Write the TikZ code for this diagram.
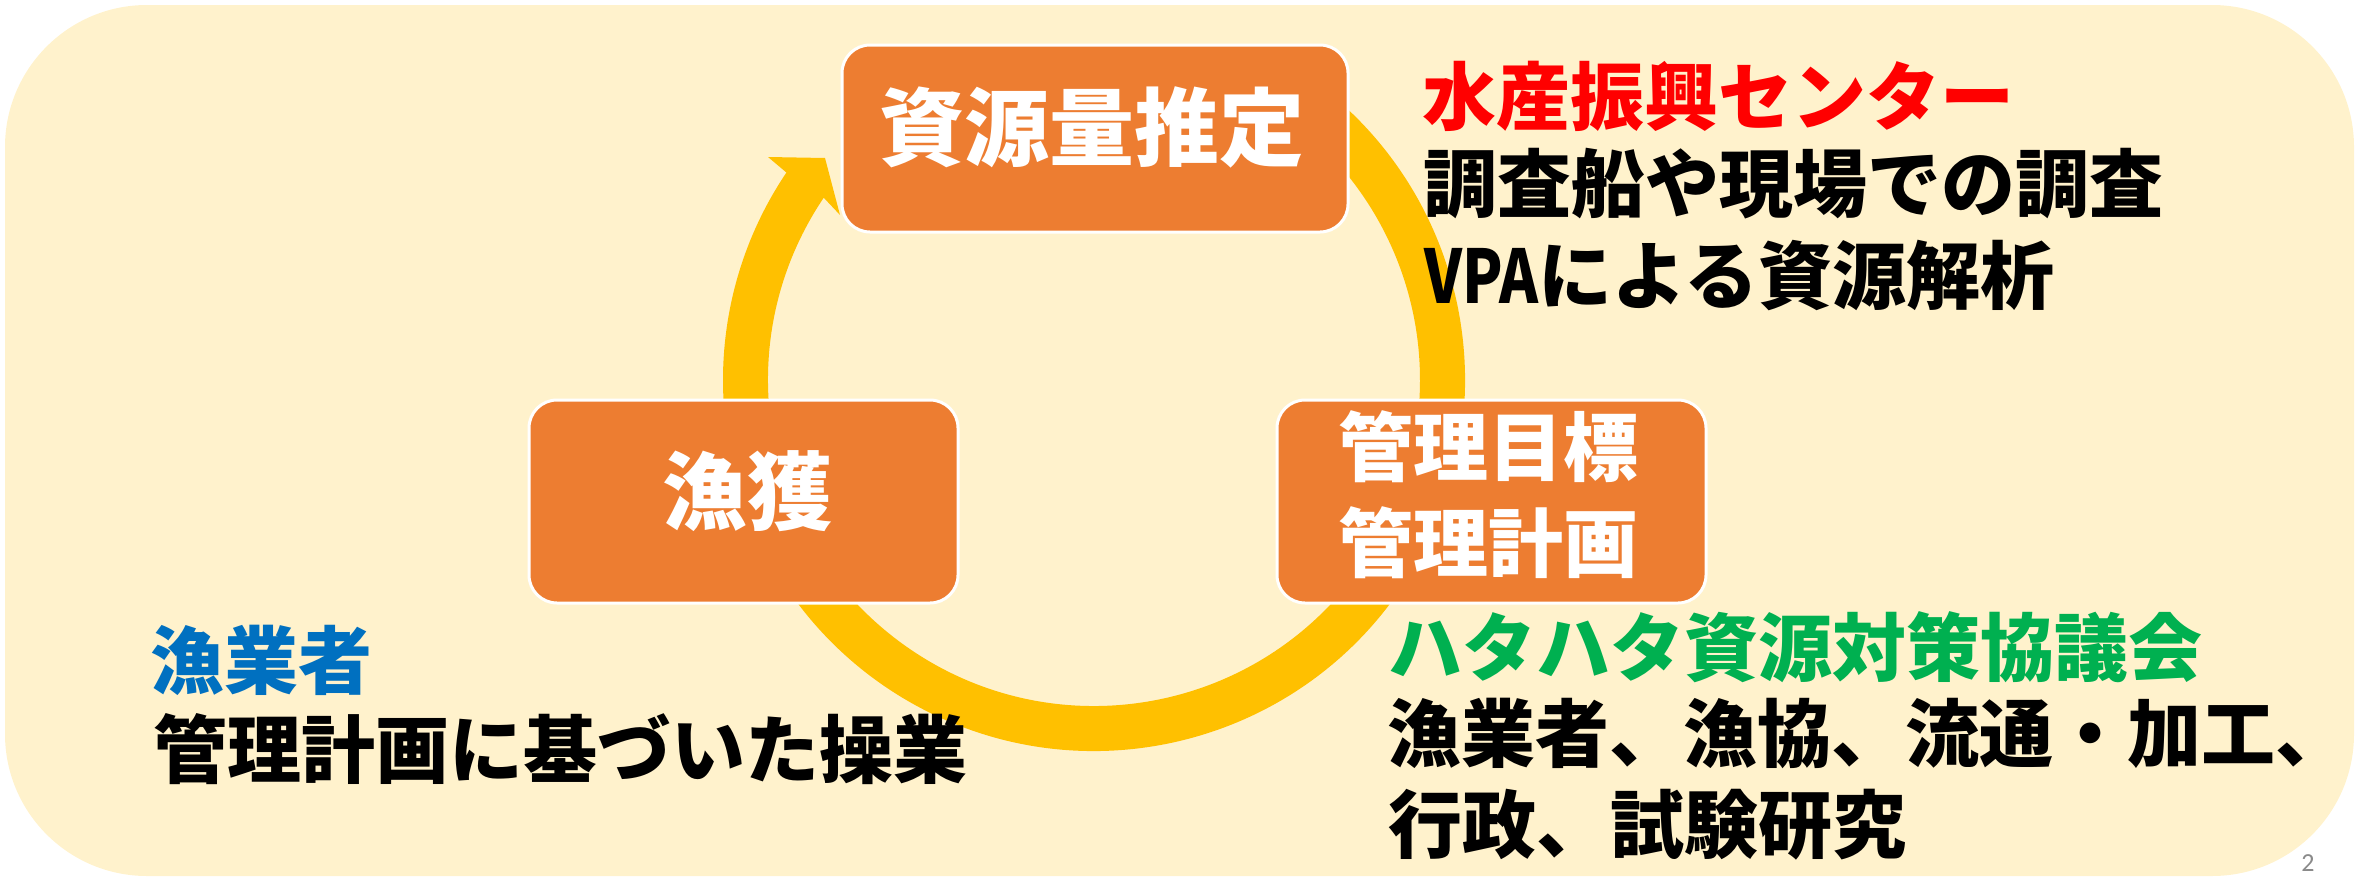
\documentclass[tikz,border=0pt]{standalone}
\usepackage{fontspec}
\newfontfamily\jp{Noto Sans CJK JP}
\newfontfamily\jpnarrow{Noto Sans CJK JP}[FakeStretch=0.8]
\newfontfamily\numfont{Carlito}
\definecolor{bgc}{HTML}{FFF2CC}
\definecolor{boxc}{HTML}{ED7D31}
\definecolor{arrowc}{HTML}{FFC000}
\definecolor{redc}{HTML}{FF0000}
\definecolor{bluec}{HTML}{0070C0}
\definecolor{greenc}{HTML}{00B050}
\definecolor{pagec}{HTML}{8A8A8A}
\begin{document}
\begin{tikzpicture}[x=1pt,y=1pt,
  stepbox/.style={rectangle, rounded corners=28pt, fill=boxc, draw=white, line width=3pt, inner sep=0pt},
  boxtext/.style={text=white, inner sep=0pt, align=center, font=\jp\bfseries\fontsize{85}{96}\selectfont},
  sidetext/.style={anchor=west, inner sep=0pt, text=black, font=\jp\bfseries\fontsize{74}{89}\selectfont}]
\useasboundingbox (0,0) rectangle (2359,-881);
\fill[bgc, rounded corners=142pt] (5,-5) rectangle (2354,-876);

% circular arrow
\begin{scope}[shift={(1094,-380)}]
\fill[arrowc] (60:371) arc[start angle=60,end angle=-214,radius=371]
  -- (-326,223) -- (-269,222) -- (-254,165)
  -- (-214:326) arc[start angle=-214,end angle=60,radius=326] -- cycle;
\end{scope}

% boxes
\node[stepbox, minimum width=506pt, minimum height=187pt] (est) at (1095,-138.5) {};
\node[stepbox, minimum width=429pt, minimum height=203pt] (catch) at (743.5,-501.5) {};
\node[stepbox, minimum width=429pt, minimum height=203pt] (plan) at (1491.5,-501.5) {};

\node[boxtext] (estt) at ([xshift=-3pt,yshift=11.5pt]est.center) {資源量推定};
\node[boxtext] (catcht) at ([xshift=4pt,yshift=10pt]catch.center) {漁獲};
\node[boxtext, font=\jp\bfseries\fontsize{75}{96}\selectfont] (plant) at ([xshift=-3pt,yshift=6.5pt]plan.center) {管理目標\\管理計画};

% side texts
\node[sidetext, text=redc] (t1) at (1422,-96) {水産振興センター};
\node[sidetext] (t2) at (1423,-184) {調査船や現場での調査};
\node[sidetext] (t3) at (1424,-275) {{\jpnarrow\bfseries VPA}による資源解析};

\node[sidetext, text=bluec] (l1) at (150,-660) {漁業者};
\node[sidetext] (l2) at (153,-749) {管理計画に基づいた操業};

\node[sidetext, text=greenc] (r1) at (1388,-647) {ハタハタ資源対策協議会};
\node[sidetext] (r2) at (1387,-733) {漁業者、漁協、流通・加工、};
\node[sidetext] (r3) at (1388,-825) {行政、試験研究};

\node[text=pagec, inner sep=0pt, font=\numfont\fontsize{26}{30}\selectfont] (pg) at (2308,-863) {2};
\end{tikzpicture}
\end{document}
